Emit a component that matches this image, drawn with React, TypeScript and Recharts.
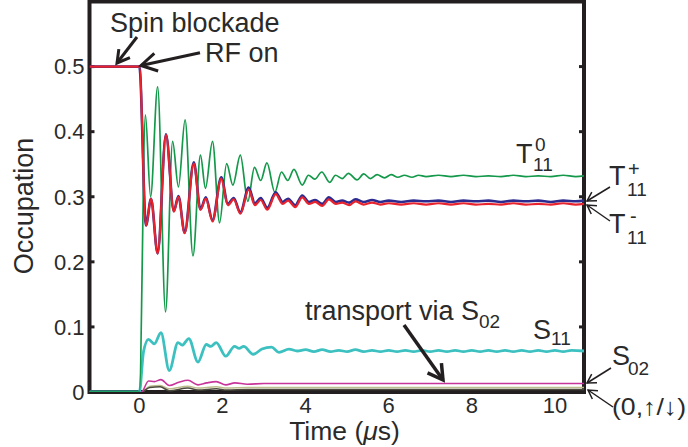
import React from 'react';
import { LineChart, Line, XAxis, YAxis, ReferenceArea, ReferenceLine } from 'recharts';

const FONT = '"Liberation Sans", Arial, Helvetica, sans-serif';
const TEXT = '#2a2a2a';
const AXIS = '#231f20';

const X_DOMAIN: [number, number] = [-1.2, 10.7];
const Y_DOMAIN: [number, number] = [0, 0.6];
const X_TICKS = [0, 2, 4, 6, 8, 10];
const Y_TICKS = [0, 0.1, 0.2, 0.3, 0.4, 0.5];

// T11^0 (green)
const t0Pts: [number, number][] = [
  [-1.2, 0], [-0.02, 0], [0.0, 0.0], [0.145, 0.426], [0.27, 0.300], [0.44, 0.469], [0.63, 0.123],
  [0.80, 0.385], [0.94, 0.315], [1.10, 0.418], [1.29, 0.209], [1.47, 0.364], [1.59, 0.313],
  [1.76, 0.385], [1.93, 0.260], [2.10, 0.351], [2.25, 0.318], [2.43, 0.364], [2.61, 0.293],
  [2.77, 0.345], [2.92, 0.325], [3.07, 0.352], [3.26, 0.307], [3.42, 0.338], [3.57, 0.325],
  [3.72, 0.342], [3.92, 0.318], [4.07, 0.333], [4.22, 0.327], [4.39, 0.338], [4.58, 0.322],
  [4.72, 0.333], [4.88, 0.328], [5.03, 0.336], [5.24, 0.326], [5.40, 0.335], [5.56, 0.328],
  [5.72, 0.334], [5.90, 0.329], [6.06, 0.334], [6.22, 0.330], [6.38, 0.333], [6.56, 0.330],
  [6.72, 0.333], [6.90, 0.331], [7.20, 0.333], [7.50, 0.331], [7.80, 0.333], [8.10, 0.331],
  [8.40, 0.332], [8.70, 0.331], [9.00, 0.333], [9.30, 0.331], [9.60, 0.332], [9.90, 0.331],
  [10.20, 0.333], [10.50, 0.331], [10.70, 0.332],
];

// T11^- (red)
const tMinusPts: [number, number][] = [
  [-1.2, 0.5], [0.0, 0.5], [0.16, 0.256], [0.28, 0.297], [0.44, 0.213], [0.64, 0.395],
  [0.83, 0.277], [0.94, 0.300], [1.09, 0.244], [1.31, 0.351], [1.47, 0.280], [1.60, 0.297],
  [1.76, 0.262], [1.97, 0.328], [2.13, 0.287], [2.27, 0.296], [2.43, 0.274], [2.63, 0.311],
  [2.78, 0.287], [2.92, 0.295], [3.08, 0.280], [3.28, 0.304], [3.45, 0.289], [3.58, 0.294],
  [3.75, 0.284], [3.92, 0.299], [4.08, 0.289], [4.23, 0.292], [4.40, 0.286], [4.56, 0.296],
  [4.73, 0.289], [4.88, 0.291], [5.05, 0.287], [5.20, 0.293], [5.40, 0.288], [5.60, 0.291],
  [5.80, 0.288], [6.00, 0.290], [6.30, 0.288], [6.60, 0.290], [6.90, 0.288], [7.20, 0.290],
  [7.50, 0.288], [7.80, 0.290], [8.10, 0.288], [8.40, 0.289], [8.70, 0.288], [9.00, 0.290],
  [9.30, 0.288], [9.60, 0.289], [9.90, 0.288], [10.20, 0.290], [10.50, 0.288], [10.70, 0.289],
];

// T11^+ (blue)
const tPlusPts: [number, number][] = [
  [-1.2, 0.5], [0.0, 0.5], [0.16, 0.256], [0.28, 0.297], [0.44, 0.213], [0.64, 0.396],
  [0.83, 0.278], [0.94, 0.301], [1.09, 0.245], [1.31, 0.353], [1.47, 0.281], [1.60, 0.299],
  [1.76, 0.264], [1.97, 0.330], [2.13, 0.289], [2.27, 0.298], [2.43, 0.276], [2.63, 0.314],
  [2.78, 0.290], [2.92, 0.298], [3.08, 0.283], [3.28, 0.307], [3.45, 0.292], [3.58, 0.297],
  [3.75, 0.287], [3.92, 0.302], [4.08, 0.292], [4.23, 0.295], [4.40, 0.289], [4.56, 0.299],
  [4.73, 0.292], [4.88, 0.294], [5.05, 0.291], [5.20, 0.296], [5.40, 0.292], [5.60, 0.295],
  [5.80, 0.292], [6.00, 0.294], [6.30, 0.292], [6.60, 0.294], [6.90, 0.293], [7.20, 0.294],
  [7.50, 0.292], [7.80, 0.294], [8.10, 0.293], [8.40, 0.294], [8.70, 0.292], [9.00, 0.294],
  [9.30, 0.293], [9.60, 0.294], [9.90, 0.292], [10.20, 0.294], [10.50, 0.293], [10.70, 0.294],
];

// S11 (cyan)
const s11Pts: [number, number][] = [
  [-1.2, 0], [0.0, 0], [0.1, 0.062], [0.22, 0.081], [0.36, 0.074], [0.52, 0.091], [0.72, 0.033],
  [0.93, 0.076], [1.03, 0.072], [1.19, 0.082], [1.41, 0.046], [1.61, 0.073], [1.72, 0.070],
  [1.85, 0.076], [2.08, 0.055], [2.29, 0.070], [2.40, 0.067], [2.51, 0.070], [2.74, 0.058],
  [2.95, 0.066], [3.18, 0.069], [3.36, 0.061], [3.60, 0.066], [3.80, 0.063], [4.00, 0.065],
  [4.20, 0.062], [4.40, 0.065], [4.60, 0.062], [4.80, 0.064], [5.00, 0.062], [5.20, 0.065],
  [5.40, 0.062], [5.60, 0.064], [5.80, 0.062], [6.00, 0.064], [6.20, 0.062], [6.40, 0.064],
  [6.60, 0.062], [6.80, 0.064], [7.00, 0.062], [7.20, 0.064], [7.40, 0.062], [7.60, 0.064],
  [7.80, 0.062], [8.00, 0.064], [8.20, 0.062], [8.40, 0.064], [8.60, 0.062], [8.80, 0.064],
  [9.00, 0.062], [9.20, 0.064], [9.40, 0.062], [9.60, 0.064], [9.80, 0.062], [10.00, 0.064],
  [10.20, 0.062], [10.40, 0.064], [10.70, 0.063],
];

// S02 (magenta)
const s02Pts: [number, number][] = [
  [-1.2, 0], [0.05, 0], [0.22, 0.017], [0.36, 0.016], [0.52, 0.019], [0.72, 0.010], [0.95, 0.015],
  [1.17, 0.018], [1.41, 0.011], [1.62, 0.014], [1.85, 0.016], [2.08, 0.011], [2.30, 0.014],
  [2.60, 0.012], [3.00, 0.013], [4.00, 0.013], [10.70, 0.013],
];

// (0,up) (khaki)
const upPts: [number, number][] = [
  [-1.2, 0], [0.05, 0], [0.25, 0.009], [0.50, 0.010], [0.72, 0.005], [1.17, 0.009], [1.41, 0.006],
  [1.85, 0.008], [2.10, 0.006], [2.60, 0.007], [3.20, 0.007], [10.70, 0.007],
];

// (0,down) (dark)
const downPts: [number, number][] = [
  [-1.2, 0], [0.05, 0], [0.25, 0.007], [0.50, 0.008], [0.72, 0.002], [1.17, 0.006], [1.41, 0.003],
  [1.85, 0.005], [2.10, 0.003], [2.60, 0.004], [3.20, 0.004], [10.70, 0.004],
];

const toRows = (pts: [number, number][]) => pts.map(([t, v]) => ({ t, v }));

const SERIES = [
  { name: '(0,up)', pts: upPts, color: '#bcbc8c', w: 1.5 },
  { name: '(0,down)', pts: downPts, color: '#4a4a3c', w: 1.5 },
  { name: 'S02', pts: s02Pts, color: '#c8359a', w: 1.6 },
  { name: 'S11', pts: s11Pts, color: '#3cc0c0', w: 2.8 },
  { name: 'T0', pts: t0Pts, color: '#14984a', w: 1.7 },
  { name: 'T+', pts: tPlusPts, color: '#2b2b90', w: 2.6 },
  { name: 'T-', pts: tMinusPts, color: '#e8232d', w: 2.2 },
];

function Arrow({ x1, y1, x2, y2, len, w, angle = 30 }: any) {
  const dx = x2 - x1, dy = y2 - y1;
  const L = Math.hypot(dx, dy);
  const bx = -dx / L, by = -dy / L;
  const a = (angle * Math.PI) / 180;
  const c = Math.cos(a), s = Math.sin(a);
  const p1 = [x2 + len * (bx * c - by * s), y2 + len * (bx * s + by * c)];
  const p2 = [x2 + len * (bx * c + by * s), y2 + len * (-bx * s + by * c)];
  return (
    <g stroke={AXIS} strokeWidth={w} fill="none" strokeLinecap="butt" strokeLinejoin="miter">
      <line x1={x1} y1={y1} x2={x2} y2={y2} />
      <polyline points={`${p1[0]},${p1[1]} ${x2},${y2} ${p2[0]},${p2[1]}`} />
    </g>
  );
}

const tickStyle = { fontSize: 22, fill: TEXT, fontFamily: FONT };

export default function App() {
  return (
    <div style={{ position: 'absolute', left: 0, top: 0, width: 688, height: 447, background: '#fff' }}>
      <LineChart width={688} height={447} margin={{ top: 1.5, right: 104, bottom: 0, left: 0 }}>
        <XAxis
          type="number"
          dataKey="t"
          domain={X_DOMAIN}
          ticks={X_TICKS}
          allowDataOverflow
          interval={0}
          height={55}
          axisLine={false}
          tickLine={false}
          tickSize={0}
          tickMargin={5}
          tick={tickStyle}
        />
        <YAxis
          type="number"
          domain={Y_DOMAIN}
          ticks={Y_TICKS}
          allowDataOverflow
          interval={0}
          width={89.5}
          axisLine={false}
          tickLine={false}
          tickSize={0}
          tickMargin={5}
          tick={tickStyle}
        />
        <ReferenceArea
          x1={X_DOMAIN[0]}
          x2={X_DOMAIN[1]}
          y1={Y_DOMAIN[0]}
          y2={Y_DOMAIN[1]}
          fill="none"
          fillOpacity={0}
          stroke={AXIS}
          strokeWidth={4}
          ifOverflow="visible"
        />
        {Y_TICKS.filter((v) => v > 0).map((v) => (
          <ReferenceLine
            key={'l' + v}
            segment={[{ x: X_DOMAIN[0], y: v }, { x: X_DOMAIN[0] + 0.12, y: v }]}
            stroke={AXIS}
            strokeWidth={3}
          />
        ))}
        {Y_TICKS.filter((v) => v > 0).map((v) => (
          <ReferenceLine
            key={'r' + v}
            segment={[{ x: X_DOMAIN[1] - 0.12, y: v }, { x: X_DOMAIN[1], y: v }]}
            stroke={AXIS}
            strokeWidth={3}
          />
        ))}
        {SERIES.map((s) => (
          <Line
            key={s.name}
            name={s.name}
            data={toRows(s.pts)}
            dataKey="v"
            type="monotone"
            stroke={s.color}
            strokeWidth={s.w}
            dot={false}
            activeDot={false}
            isAnimationActive={false}
          />
        ))}
      </LineChart>
      <svg
        width={688}
        height={447}
        style={{ position: 'absolute', left: 0, top: 0, pointerEvents: 'none' }}
        fontFamily={FONT}
        fill={TEXT}
      >
        <text x={33} y={206} fontSize={27} textAnchor="middle" transform="rotate(-90, 33, 206)">
          Occupation
        </text>
        <text x={344.5} y={440} fontSize={26.5} textAnchor="middle">
          Time (<tspan fontStyle="italic">μ</tspan>s)
        </text>

        <text x={110} y={31.5} fontSize={27}>Spin blockade</text>
        <Arrow x1={137} y1={37} x2={117} y2={63} len={14} w={3} />
        <text x={205} y={61.5} fontSize={27}>RF on</text>
        <Arrow x1={200} y1={52.7} x2={141} y2={65.5} len={18} w={3} />

        <text x={305} y={320} fontSize={27}>transport via S</text>
        <text x={479} y={328} fontSize={19}>02</text>
        <Arrow x1={404} y1={325} x2={443} y2={380} len={17} w={3.5} />

        <text x={516} y={163} fontSize={27}>T</text>
        <text x={533} y={171} fontSize={19}>11</text>
        <text x={535} y={151} fontSize={19}>0</text>

        <text x={609} y={185} fontSize={27}>T</text>
        <text x={628} y={176} fontSize={20}>+</text>
        <text x={627} y={196} fontSize={19}>11</text>
        <Arrow x1={610} y1={187} x2={587} y2={201} len={10} w={1.5} />

        <text x={609} y={233} fontSize={27}>T</text>
        <text x={630} y={223} fontSize={20}>-</text>
        <text x={627} y={244} fontSize={19}>11</text>
        <Arrow x1={610} y1={221} x2={587} y2={205} len={10} w={1.5} />

        <text x={533} y={339} fontSize={27}>S</text>
        <text x={551} y={345} fontSize={19}>11</text>

        <text x={612} y={365} fontSize={27}>S</text>
        <text x={628} y={375} fontSize={19}>02</text>
        <Arrow x1={611} y1={368} x2={587} y2={383} len={10} w={1.5} />

        <text x={612} y={415} fontSize={24} textLength={74} lengthAdjust="spacingAndGlyphs">(0,↑/↓)</text>
        <Arrow x1={613} y1={407} x2={588} y2={390} len={10} w={1.5} />
      </svg>
    </div>
  );
}
